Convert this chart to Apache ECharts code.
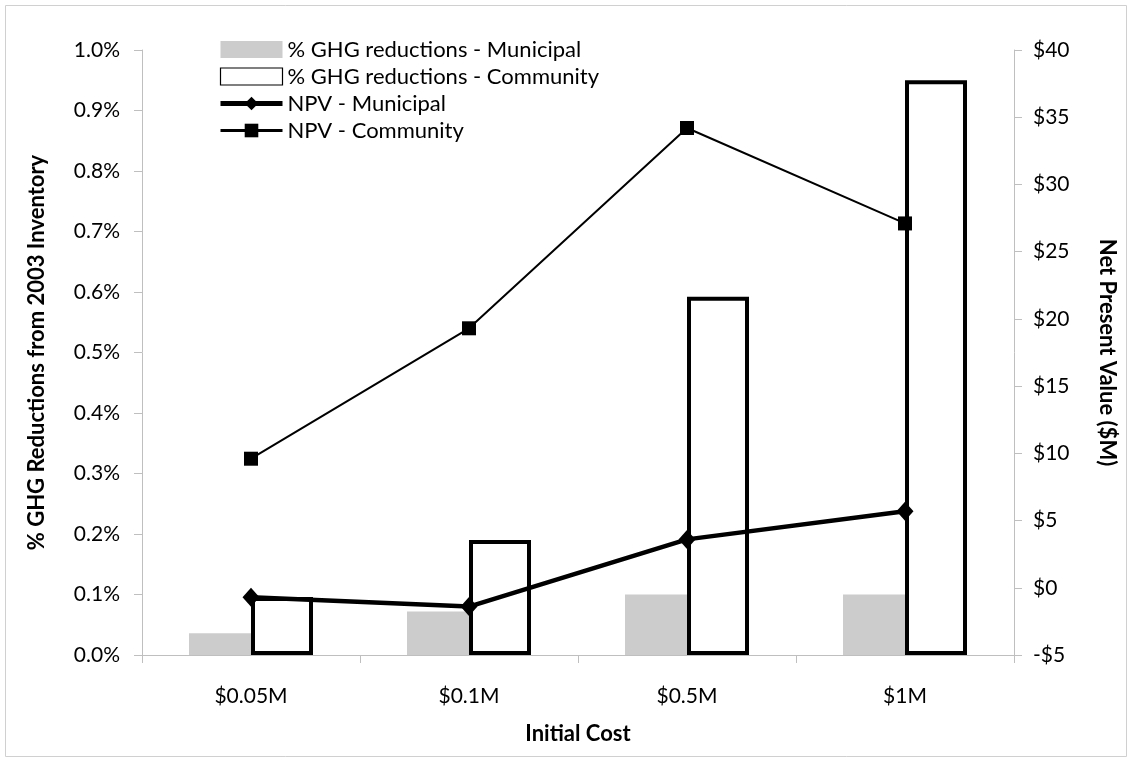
<!DOCTYPE html>
<html>
<head>
<meta charset="utf-8">
<script src="https://cdn.jsdelivr.net/npm/echarts@6/dist/echarts.min.js"></script>
<style>
  html, body { margin: 0; padding: 0; background: #fff; }
  #chart { width: 1132px; height: 761px; }
</style>
</head>
<body>
<div id="chart"></div>
<script>
// Initial cost scenarios
const categories = ['$0.05M', '$0.1M', '$0.5M', '$1M'];
// % GHG reductions from the 2003 inventory (percent)
const ghgMunicipal = [0.036, 0.072, 0.1, 0.1];
const ghgCommunity = [0.096, 0.19, 0.592, 0.95];
// Net present value ($M)
const npvMunicipal = [-0.7, -1.4, 3.6, 5.7];
const npvCommunity = [9.6, 19.3, 34.2, 27.1];

const FONT = 'Lato';
const axisGray = '#bfbfbf';
const LABEL_SIZE = 21;
const TITLE_SIZE = 22;

const chart = echarts.init(document.getElementById('chart'), null, { renderer: 'canvas' });

chart.setOption({
  backgroundColor: '#ffffff',
  animation: false,
  textStyle: { fontFamily: FONT, color: '#000' },
  graphic: [{
    type: 'rect',
    shape: { x: 5.5, y: 5.5, width: 1121, height: 751 },
    style: { fill: 'none', stroke: '#d0d0d0', lineWidth: 1 },
    silent: true
  }],
  grid: { left: 142, right: 118, top: 50, bottom: 106 },
  legend: {
    orient: 'vertical',
    left: 213,
    top: 33,
    itemWidth: 62,
    itemHeight: 17,
    itemGap: 4,
    textStyle: { fontFamily: FONT, fontSize: 22, color: '#000', lineHeight: 23, padding: [0, 0, 0, 0] },
    data: [
      { name: '% GHG reductions - Municipal', icon: 'rect' },
      { name: '% GHG reductions - Community', icon: 'rect', itemStyle: { borderWidth: 1.2, borderColor: '#000', color: '#fff' } },
      { name: 'NPV - Municipal', lineStyle: { width: 5, color: '#000' } },
      { name: 'NPV - Community', lineStyle: { width: 3, color: '#000' } }
    ]
  },
  xAxis: {
    type: 'category',
    data: categories,
    name: 'Initial Cost',
    nameLocation: 'middle',
    nameGap: 68,
    nameTextStyle: { fontFamily: FONT, fontSize: TITLE_SIZE, fontWeight: 'bold', color: '#000' },
    axisLine: { lineStyle: { color: axisGray, width: 1 } },
    axisTick: { show: true, length: 8, lineStyle: { color: axisGray } },
    axisLabel: { margin: 31, fontFamily: FONT, fontSize: LABEL_SIZE, color: '#000' }
  },
  yAxis: [{
    type: 'value',
    min: 0,
    max: 1.0,
    interval: 0.1,
    position: 'left',
    name: '% GHG Reductions from 2003 Inventory',
    nameLocation: 'middle',
    nameRotate: 90,
    nameGap: 94,
    nameTextStyle: { fontFamily: FONT, fontSize: TITLE_SIZE, fontWeight: 'bold', color: '#000' },
    axisLine: { show: true, lineStyle: { color: axisGray, width: 1 } },
    axisTick: { show: true, length: 8, lineStyle: { color: axisGray } },
    splitLine: { show: false },
    axisLabel: {
      margin: 22, fontFamily: FONT, fontSize: LABEL_SIZE, color: '#000',
      formatter: v => v.toFixed(1) + '%'
    }
  }, {
    type: 'value',
    min: -5,
    max: 40,
    interval: 5,
    position: 'right',
    name: 'Net Present Value ($M)',
    nameLocation: 'middle',
    nameRotate: -90,
    nameGap: 82,
    nameTextStyle: { fontFamily: FONT, fontSize: TITLE_SIZE, fontWeight: 'bold', color: '#000' },
    axisLine: { show: true, lineStyle: { color: axisGray, width: 1 } },
    axisTick: { show: true, length: 8, lineStyle: { color: axisGray } },
    splitLine: { show: false },
    axisLabel: {
      margin: 19, fontFamily: FONT, fontSize: LABEL_SIZE, color: '#000',
      formatter: v => (v < 0 ? '-$' + Math.abs(v) : '$' + v)
    }
  }],
  series: [{
    name: '% GHG reductions - Municipal',
    type: 'bar',
    yAxisIndex: 0,
    data: ghgMunicipal,
    barWidth: 62,
    barGap: '0%',
    itemStyle: { color: '#cccccc' }
  }, {
    name: '% GHG reductions - Community',
    type: 'bar',
    yAxisIndex: 0,
    data: ghgCommunity,
    barWidth: 62,
    barGap: '0%',
    itemStyle: { color: '#ffffff', borderColor: '#000', borderWidth: 4 }
  }, {
    name: 'NPV - Municipal',
    type: 'line',
    yAxisIndex: 1,
    data: npvMunicipal,
    symbol: 'diamond',
    symbolSize: [17, 19],
    lineStyle: { color: '#000', width: 4.5 },
    itemStyle: { color: '#000' },
    z: 5
  }, {
    name: 'NPV - Community',
    type: 'line',
    yAxisIndex: 1,
    data: npvCommunity,
    symbol: 'rect',
    symbolSize: 14,
    lineStyle: { color: '#000', width: 2 },
    itemStyle: { color: '#000' },
    z: 5
  }]
});
</script>
</body>
</html>
